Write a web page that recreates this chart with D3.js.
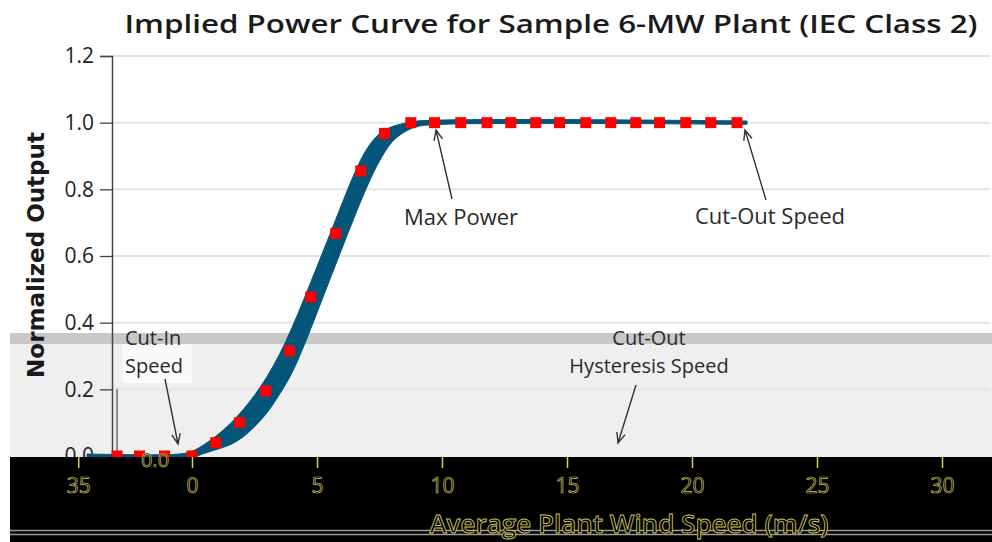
<!DOCTYPE html>
<html>
<head>
<meta charset="utf-8">
<script src="https://cdn.jsdelivr.net/npm/d3@7"></script>
<style>
  html, body { margin: 0; padding: 0; background: #fff; }
  svg { display: block; }
</style>
</head>
<body>
<div id="chart"></div>
<script>
// marker series (red squares)
const markerSpeeds = [-3, -2.1, -1.1, 0, 0.95, 1.9, 2.95, 3.9, 4.75, 5.75, 6.75, 7.7, 8.75,
  9.7, 10.75, 11.8, 12.75, 13.75, 14.7, 15.75, 16.75, 17.75, 18.7, 19.75, 20.75, 21.8];
const markerOutput = [0, 0, 0, 0, 0.04, 0.10, 0.195, 0.315, 0.477, 0.668, 0.855, 0.968, 1.0,
  1.0, 1.0, 1.0, 1.0, 1.0, 1.0, 1.0, 1.0, 1.0, 1.0, 1.0, 1.0, 1.0];

// the thick blue band: upper (left) edge and lower (right) edge
const bandUpperSpeed = [-4.2, -0.5, 0, 0.5, 1, 1.5, 2, 2.5, 3, 3.5, 4, 4.5, 5, 5.5, 6, 6.5, 7, 7.5, 8, 8.5, 9, 22.2];
const bandUpperOutput = [0.006, 0.006, 0.014, 0.035, 0.062, 0.095, 0.135, 0.182, 0.238, 0.305, 0.385, 0.475,
  0.568, 0.662, 0.757, 0.848, 0.922, 0.967, 0.988, 0.998, 1.005, 1.005];
const bandLowerSpeed = [-4.2, 0, 0.5, 1, 1.5, 2, 2.5, 3, 3.5, 4, 4.5, 5, 5.5, 6, 6.5, 7, 7.5, 8, 8.5, 9, 10, 22.2];
const bandLowerOutput = [-0.006, -0.004, 0.008, 0.02, 0.033, 0.055, 0.088, 0.13, 0.185, 0.25, 0.335, 0.43,
  0.527, 0.623, 0.718, 0.808, 0.885, 0.942, 0.972, 0.988, 0.995, 0.995];

const yTicks = [0, 0.2, 0.4, 0.6, 0.8, 1.0, 1.2];
const xTickValues = [-4.55, 0, 5, 10, 15, 20, 25, 30];
const xTickLabels = ['35', '0', '5', '10', '15', '20', '25', '30'];

const title = 'Implied Power Curve for Sample 6-MW Plant (IEC Class 2)';
const yTitle = 'Normalized Output';
const xTitle = 'Average Plant Wind Speed (m/s)';

const width = 992, height = 542;
const margin = { top: 56, right: 0, bottom: 86, left: 112 };

const svg = d3.select('#chart').append('svg')
  .attr('width', width)
  .attr('height', height);

const x = d3.scaleLinear().domain([-3.2, 32]).range([margin.left, width - margin.right]);
const y = d3.scaleLinear().domain([0, 1.2]).range([height - margin.bottom, margin.top]);

const sans = '"Open Sans", "DejaVu Sans", sans-serif';
const blue = '#04557a';
const outline = '#cdc35a';

// background
svg.append('rect').attr('width', width).attr('height', height).attr('fill', '#fff');

// the grey strips in the lower part of the plot
svg.append('rect').attr('x', 10).attr('y', 344).attr('width', width - 10).attr('height', 113).attr('fill', '#efefef');
svg.append('rect').attr('x', 10).attr('y', 333).attr('width', width - 10).attr('height', 11).attr('fill', '#c8c8c8');
svg.append('rect').attr('x', 122).attr('y', 344).attr('width', 70).attr('height', 39).attr('fill', '#fafafa');

// gridlines
svg.append('g')
  .selectAll('line')
  .data(yTicks.filter(d => d > 0))
  .join('line')
  .attr('x1', x.range()[0])
  .attr('x2', width - 2)
  .attr('y1', d => y(d))
  .attr('y2', d => y(d))
  .attr('stroke', '#e4e4e4')
  .attr('stroke-width', 2);

// y axis
const yAxis = svg.append('g')
  .attr('transform', 'translate(' + margin.left + ',0)')
  .call(d3.axisLeft(y).tickValues(yTicks).tickFormat(d3.format('.1f')).tickSize(12).tickPadding(6));
yAxis.select('.domain').attr('stroke', '#444').attr('stroke-width', 1.5);
yAxis.selectAll('.tick line').attr('stroke', '#444').attr('stroke-width', 1.3);
yAxis.selectAll('.tick text')
  .attr('fill', '#222')
  .style('font-family', sans)
  .style('font-size', '21px');

// short vertical line beside Cut-In
svg.append('line')
  .attr('x1', 117).attr('x2', 117)
  .attr('y1', y(0.2)).attr('y2', y(0))
  .attr('stroke', '#555').attr('stroke-width', 1.3);

// blue band
const line = d3.line()
  .x(d => x(d[0]))
  .y(d => y(d[1]))
  .curve(d3.curveCatmullRom.alpha(0.5));
const upperPts = bandUpperSpeed.map((s, i) => [s, bandUpperOutput[i]]);
const lowerPts = bandLowerSpeed.map((s, i) => [s, bandLowerOutput[i]]).reverse();
const bandPath = line(upperPts) + 'L' + line(lowerPts).slice(1) + 'Z';
svg.append('path')
  .attr('d', bandPath)
  .attr('fill', blue)
  .attr('stroke', blue)
  .attr('stroke-width', 1);

// red markers
const size = 11;
svg.append('g')
  .selectAll('rect')
  .data(markerSpeeds.map((s, i) => ({ s: s, v: markerOutput[i] })))
  .join('rect')
  .attr('x', d => x(d.s) - size / 2)
  .attr('y', d => y(d.v) - size / 2)
  .attr('width', size)
  .attr('height', size)
  .attr('fill', '#ff0000');

// annotations
const notes = [
  { lines: ['Max Power'], tx: 461, ty: 225, anchor: 'middle', from: [452, 199], to: [436, 130] },
  { lines: ['Cut-Out Speed'], tx: 770, ty: 224, anchor: 'middle', from: [766, 200], to: [745, 130] },
  { lines: ['Cut-Out', 'Hysteresis Speed'], tx: 649, ty: 345, anchor: 'middle', from: [636, 385], to: [618, 443] },
  { lines: ['Cut-In', 'Speed'], tx: 125, ty: 345, anchor: 'start', from: [165, 379], to: [178, 444] }
];

notes.forEach(function (n) {
  const fs = n.lines.length > 1 ? 20 : 22;
  n.lines.forEach(function (l, i) {
    svg.append('text')
      .attr('x', n.tx)
      .attr('y', n.ty + i * 28)
      .attr('text-anchor', n.anchor)
      .attr('fill', '#2a2a2a')
      .style('font-family', sans)
      .style('font-size', fs + 'px')
      .text(l);
  });

  const dx = n.to[0] - n.from[0], dy = n.to[1] - n.from[1];
  const a = Math.atan2(dy, dx);
  const h = 11, spread = 0.4;
  svg.append('path')
    .attr('d', 'M' + n.from[0] + ',' + n.from[1] + 'L' + n.to[0] + ',' + n.to[1]
      + 'M' + (n.to[0] - h * Math.cos(a - spread)) + ',' + (n.to[1] - h * Math.sin(a - spread))
      + 'L' + n.to[0] + ',' + n.to[1]
      + 'L' + (n.to[0] - h * Math.cos(a + spread)) + ',' + (n.to[1] - h * Math.sin(a + spread)))
    .attr('fill', 'none')
    .attr('stroke', '#333')
    .attr('stroke-width', 1.4);
});

// title
svg.append('text')
  .attr('x', 551)
  .attr('y', 33)
  .attr('text-anchor', 'middle')
  .attr('textLength', 853)
  .attr('lengthAdjust', 'spacingAndGlyphs')
  .attr('fill', '#1a1a1a')
  .style('font-family', sans)
  .style('font-size', '25px')
  .style('font-weight', 600)
  .text(title);

// y title
svg.append('text')
  .attr('transform', 'translate(44,255) rotate(-90)')
  .attr('text-anchor', 'middle')
  .attr('fill', '#1a1a1a')
  .style('font-family', '"DejaVu Sans", sans-serif')
  .style('font-size', '23px')
  .style('font-weight', 700)
  .text(yTitle);

// dark strip under the plot
svg.append('rect').attr('x', 10).attr('y', y(0) + 1).attr('width', width - 10).attr('height', height - y(0)).attr('fill', '#000');
svg.append('line').attr('x1', 10).attr('x2', width).attr('y1', 530.5).attr('y2', 530.5).attr('stroke', '#9a9a9a').attr('stroke-width', 1.5);
svg.append('line').attr('x1', 10).attr('x2', width).attr('y1', 534.5).attr('y2', 534.5).attr('stroke', '#9a9a9a').attr('stroke-width', 1.5);

// x axis (outlined text)
const xAxis = svg.append('g')
  .attr('transform', 'translate(0,' + (y(0) + 1) + ')')
  .call(d3.axisBottom(x).tickValues(xTickValues).tickFormat((d, i) => xTickLabels[i]).tickSize(11).tickPadding(10));
xAxis.select('.domain').remove();
xAxis.selectAll('.tick line').attr('stroke', '#d8cf5a').attr('stroke-width', 1.5);
xAxis.selectAll('.tick text')
  .attr('fill', '#000')
  .attr('stroke', outline)
  .attr('stroke-width', 0.7)
  .style('font-family', sans)
  .style('font-size', '21px');

svg.append('text')
  .attr('x', 155)
  .attr('y', 467)
  .attr('text-anchor', 'middle')
  .attr('fill', '#000')
  .attr('stroke', outline)
  .attr('stroke-width', 0.7)
  .style('font-family', sans)
  .style('font-size', '20px')
  .text('0.0');

svg.append('text')
  .attr('x', 629)
  .attr('y', 533)
  .attr('text-anchor', 'middle')
  .attr('fill', '#000')
  .attr('stroke', outline)
  .attr('stroke-width', 0.9)
  .style('font-family', sans)
  .style('font-size', '26px')
  .style('font-weight', 600)
  .text(xTitle);
</script>
</body>
</html>
